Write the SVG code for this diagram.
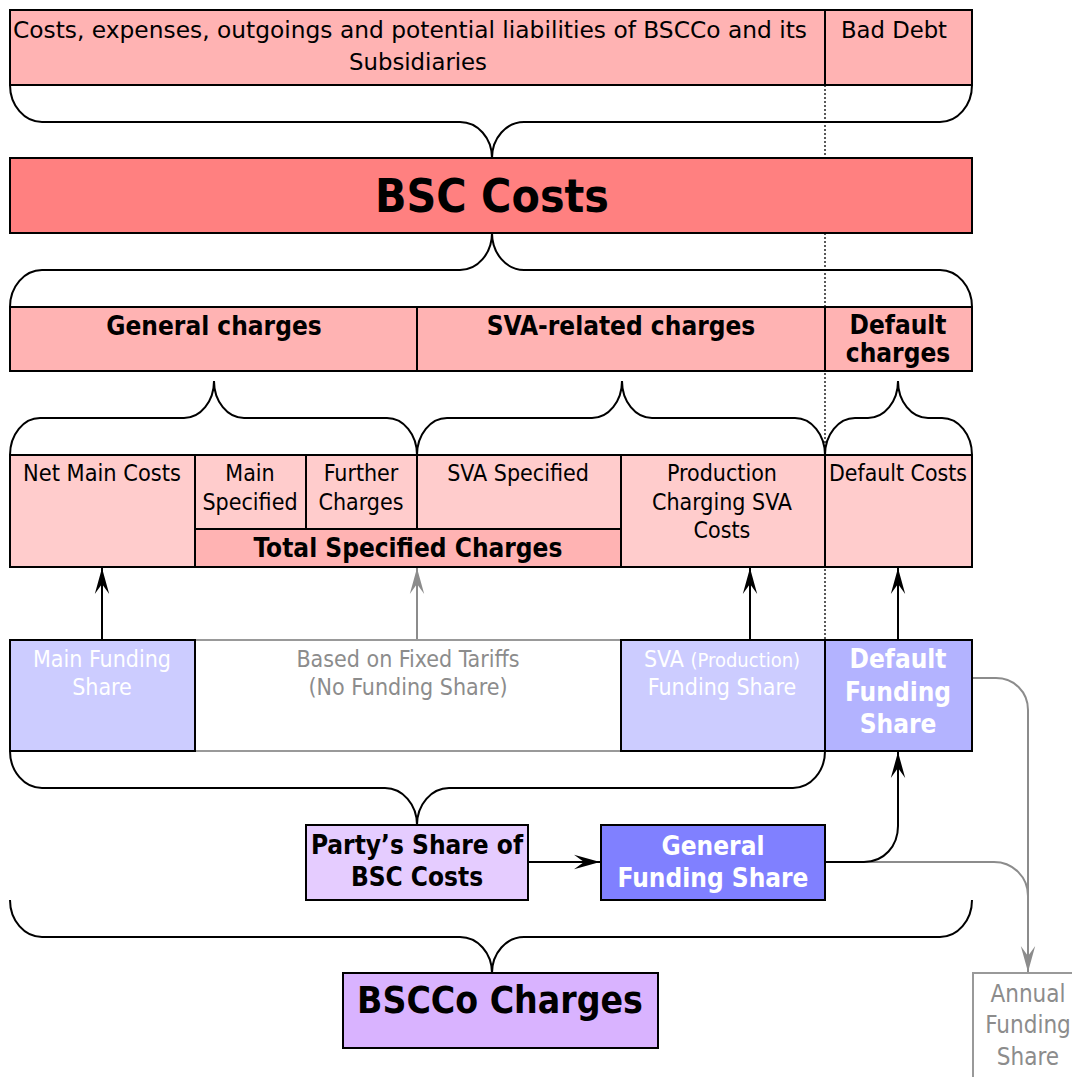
<svg xmlns="http://www.w3.org/2000/svg" width="1072" height="1077" viewBox="0 0 1072 1077">
<style>
  text { font-family: "DejaVu Sans Condensed", "DejaVu Sans", Verdana, sans-serif; font-stretch: condensed; text-anchor: middle; }
  .r { font-size: 23px; fill: #000; }
  .b { font-size: 26px; font-weight: bold; fill: #000; }
  .w { fill: #fff; }
  .g { fill: #8c8c8c; }
  .box { stroke: #000; stroke-width: 2; }
  .gbox { stroke: #999; stroke-width: 2; fill: #fff; }
  .brace { fill: none; stroke: #000; stroke-width: 2; }
  .ln { fill: none; stroke: #000; stroke-width: 2; }
  .gln { fill: none; stroke: #8c8c8c; stroke-width: 2; }
  .pk1 { fill: #ffb3b3; }
  .pk2 { fill: #ffcccc; }
  .rd { fill: #ff8080; }
  .bl1 { fill: #ccccff; }
  .bl2 { fill: #b3b3ff; }
  .bl3 { fill: #8080ff; }
  .pu1 { fill: #e5ccff; }
  .pu2 { fill: #d9b3ff; }
</style>
<defs>
  <marker id="ah" markerUnits="userSpaceOnUse" markerWidth="30" markerHeight="20" refX="28" refY="10" orient="auto">
    <path d="M28,10 L2,2.8 L12,10 L2,17.2 Z" fill="#000"/>
  </marker>
  <marker id="ahg" markerUnits="userSpaceOnUse" markerWidth="30" markerHeight="20" refX="28" refY="10" orient="auto">
    <path d="M28,10 L2,2.8 L12,10 L2,17.2 Z" fill="#8c8c8c"/>
  </marker>
</defs>
<rect x="0" y="0" width="1072" height="1077" fill="#fff"/>

<g id="guide">
  <line x1="825" y1="85" x2="825" y2="640" stroke="#000" stroke-width="1.3" stroke-dasharray="2,2"/>
</g>

<g id="connectors">
  <path class="brace" d="M10,85 C10,105.4 24.4,122 42,122 L460,122 C477.6,122 492,138 492,158 C492,138 506.4,122 524,122 L940,122 C957.6,122 972,105.4 972,85"/>
  <path class="brace" d="M10,307 C10,286.6 24.4,270 42,270 L460,270 C477.6,270 492,253.4 492,233 C492,253.4 506.4,270 524,270 L940,270 C957.6,270 972,286.6 972,307"/>
  <path class="brace" d="M10,455 C10,434.6 23.5,418 40,418 L184,418 C200.5,418 214,401.4 214,381 C214,401.4 227.5,418 244,418 L387,418 C403.5,418 417,434.6 417,455"/>
  <path class="brace" d="M417,455 C417,434.6 430.5,418 447,418 L592,418 C608.5,418 622,401.4 622,381 C622,401.4 635.5,418 652,418 L795,418 C811.5,418 825,434.6 825,455"/>
  <path class="brace" d="M825,455 C825,434.6 838.5,418 855,418 L868,418 C884.5,418 898,401.4 898,381 C898,401.4 911.5,418 928,418 L942,418 C958.5,418 972,434.6 972,455"/>
  <path class="brace" d="M10,751 C10,771.4 24.4,788 42,788 L385,788 C402.6,788 417,804.6 417,825 C417,804.6 431.4,788 449,788 L793,788 C810.6,788 825,771.4 825,751"/>
  <path class="brace" d="M10,900 C10,920.4 24.4,937 42,937 L460,937 C477.6,937 492,953 492,973 C492,953 506.4,937 524,937 L940,937 C957.6,937 972,920.4 972,900"/>

  <line class="ln" x1="102" y1="640" x2="102" y2="568" marker-end="url(#ah)"/>
  <line class="gln" x1="417" y1="640" x2="417" y2="568" marker-end="url(#ahg)"/>
  <line class="ln" x1="750" y1="640" x2="750" y2="568" marker-end="url(#ah)"/>
  <line class="ln" x1="898" y1="640" x2="898" y2="568" marker-end="url(#ah)"/>
  <line class="ln" x1="528" y1="862" x2="600" y2="862" marker-end="url(#ah)"/>
  <path class="gln" d="M862,862 L994,862 C1013,862 1028,877 1028,896 L1028,972" marker-end="url(#ahg)"/>
  <path class="gln" d="M973,678 L996,678 C1014,678 1028,692 1028,710 L1028,896"/>
  <path class="ln" d="M825,862 L864,862 C884,862 898,846 898,826 L898,752" marker-end="url(#ah)"/>
</g>

<g id="costs-top">
  <rect class="box pk1" x="10" y="10" width="815" height="75"/>
  <text class="r" x="410" y="38" textLength="794" lengthAdjust="spacingAndGlyphs">Costs, expenses, outgoings and potential liabilities of BSCCo and its</text>
  <text class="r" x="418" y="70" textLength="138" lengthAdjust="spacingAndGlyphs">Subsidiaries</text>
</g>
<g id="bad-debt">
  <rect class="box pk1" x="825" y="10" width="147" height="75"/>
  <text class="r" x="894" y="38" textLength="106" lengthAdjust="spacingAndGlyphs">Bad Debt</text>
</g>

<g id="bsc-costs">
  <rect class="box rd" x="10" y="158" width="962" height="75"/>
  <text x="492" y="212" style="font-size:46px;font-weight:bold">BSC Costs</text>
</g>

<g id="general-charges">
  <rect class="box pk1" x="10" y="307" width="407" height="64"/>
  <text class="b" x="214" y="335">General charges</text>
</g>
<g id="sva-charges">
  <rect class="box pk1" x="417" y="307" width="408" height="64"/>
  <text class="b" x="621" y="335">SVA-related charges</text>
</g>
<g id="default-charges">
  <rect class="box pk1" x="825" y="307" width="147" height="64"/>
  <text class="b" x="898" y="334">Default</text>
  <text class="b" x="898" y="362">charges</text>
</g>

<g id="net-main-costs">
  <rect class="box pk2" x="10" y="455" width="185" height="112"/>
  <text class="r" x="102" y="481" textLength="158" lengthAdjust="spacingAndGlyphs">Net Main Costs</text>
</g>
<g id="main-specified">
  <rect class="box pk2" x="195" y="455" width="111" height="74"/>
  <text class="r" x="250" y="481">Main</text>
  <text class="r" x="250" y="510">Specified</text>
</g>
<g id="further-charges">
  <rect class="box pk2" x="306" y="455" width="111" height="74"/>
  <text class="r" x="361" y="481">Further</text>
  <text class="r" x="361" y="510">Charges</text>
</g>
<g id="sva-specified">
  <rect class="box pk2" x="417" y="455" width="204" height="74"/>
  <text class="r" x="518" y="481">SVA Specified</text>
</g>
<g id="total-specified">
  <rect class="box pk1" x="195" y="529" width="426" height="38"/>
  <text class="b" x="408" y="557">Total Specified Charges</text>
</g>
<g id="production-sva">
  <rect class="box pk2" x="621" y="455" width="204" height="112"/>
  <text class="r" x="722" y="481">Production</text>
  <text class="r" x="722" y="510">Charging SVA</text>
  <text class="r" x="722" y="538">Costs</text>
</g>
<g id="default-costs">
  <rect class="box pk2" x="825" y="455" width="147" height="112"/>
  <text class="r" x="898" y="481" textLength="138" lengthAdjust="spacingAndGlyphs">Default Costs</text>
</g>

<g id="fixed-tariffs">
  <rect class="gbox" x="195" y="640" width="426" height="111"/>
  <text class="r g" x="408" y="667">Based on Fixed Tariffs</text>
  <text class="r g" x="408" y="695">(No Funding Share)</text>
</g>
<g id="main-funding">
  <rect class="box bl1" x="10" y="640" width="185" height="111"/>
  <text class="r w" x="102" y="667">Main Funding</text>
  <text class="r w" x="102" y="695">Share</text>
</g>
<g id="sva-funding">
  <rect class="box bl1" x="621" y="640" width="204" height="111"/>
  <text class="r w" x="722" y="667">SVA <tspan style="font-size:20px">(Production)</tspan></text>
  <text class="r w" x="722" y="695">Funding Share</text>
</g>
<g id="default-funding">
  <rect class="box bl2" x="825" y="640" width="147" height="111"/>
  <text class="b w" x="898" y="668">Default</text>
  <text class="b w" x="898" y="701">Funding</text>
  <text class="b w" x="898" y="733">Share</text>
</g>

<g id="party-share">
  <rect class="box pu1" x="306" y="825" width="222" height="75"/>
  <text class="b" x="417" y="854">Party’s Share of</text>
  <text class="b" x="417" y="886">BSC Costs</text>
</g>
<g id="general-funding">
  <rect class="box bl3" x="601" y="825" width="224" height="75"/>
  <text class="b w" x="713" y="855">General</text>
  <text class="b w" x="713" y="887">Funding Share</text>
</g>

<g id="bscco-charges">
  <rect class="box pu2" x="343" y="973" width="315" height="75"/>
  <text x="500" y="1013" style="font-size:37px;font-weight:bold">BSCCo Charges</text>
</g>

<g id="annual-funding">
  <rect class="gbox" x="973" y="973" width="110" height="115"/>
  <text class="g" x="1028" y="1002" style="font-size:24px">Annual</text>
  <text class="g" x="1028" y="1033" style="font-size:24px">Funding</text>
  <text class="g" x="1028" y="1065" style="font-size:24px">Share</text>
</g>
</svg>
